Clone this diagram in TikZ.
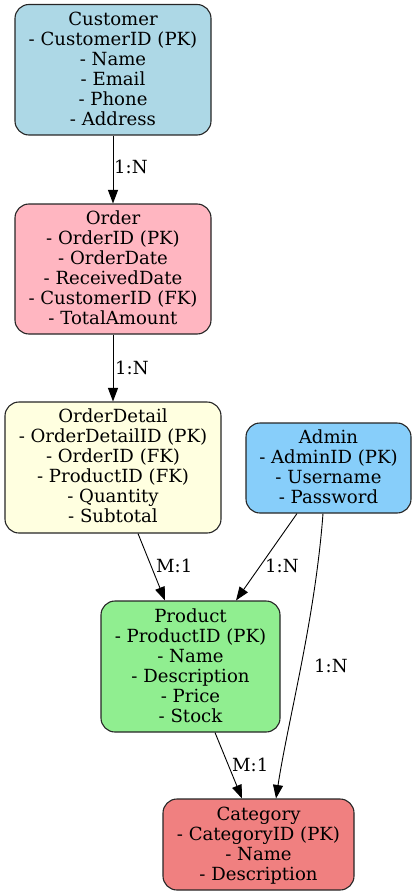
\documentclass[tikz,border=0pt]{standalone}
\usepackage{fontspec}
\setmainfont{DejaVu Serif}
\usetikzlibrary{arrows.meta,calc}
\definecolor{cCust}{HTML}{ADD8E6}
\definecolor{cOrder}{HTML}{FFB6C1}
\definecolor{cDetail}{HTML}{FFFFE0}
\definecolor{cAdmin}{HTML}{87CEFA}
\definecolor{cProd}{HTML}{90EE90}
\definecolor{cCat}{HTML}{F08080}
\tikzset{
  entbox/.style={draw=black!85, line width=1.1pt, rounded corners=14pt, inner sep=0pt, rectangle},
  enttext/.style={align=center, anchor=base, inner sep=0pt, font=\fontsize{18.1}{20}\selectfont},
  lbl/.style={anchor=base west, inner sep=0pt, font=\fontsize{18.1}{20}\selectfont},
  edge/.style={draw=black, line width=0.9pt, -{Triangle[length=13.5pt,width=10pt]}}
}
\begin{document}
\begin{tikzpicture}[x=1pt,y=-1pt]
\useasboundingbox (0,0) rectangle (415,896);
% boxes
\node[entbox, fill=cCust, minimum width=196pt, minimum height=130.5pt] (customer) at (113,69.75) {};
\node[entbox, fill=cOrder, minimum width=196pt, minimum height=130pt] (order) at (113,269) {};
\node[entbox, fill=cDetail, minimum width=216pt, minimum height=131pt] (odetail) at (113,467.5) {};
\node[entbox, fill=cAdmin, minimum width=165pt, minimum height=90pt] (admin) at (328.5,468) {};
\node[entbox, fill=cProd, minimum width=179pt, minimum height=131pt] (product) at (190.5,666.5) {};
\node[entbox, fill=cCat, minimum width=191pt, minimum height=91pt] (category) at (258.5,844.5) {};
% texts (anchored at baseline of last line)
\node[enttext] (customer-t) at (113,126) {Customer\\- CustomerID (PK)\\- Name\\- Email\\- Phone\\- Address};
\node[enttext] (order-t) at (113,324) {Order\\- OrderID (PK)\\- OrderDate\\- ReceivedDate\\- CustomerID (FK)\\- TotalAmount};
\node[enttext] (odetail-t) at (113,522) {OrderDetail\\- OrderDetailID (PK)\\- OrderID (FK)\\- ProductID (FK)\\- Quantity\\- Subtotal};
\node[enttext] (admin-t) at (328.5,503) {Admin\\- AdminID (PK)\\- Username\\- Password};
\node[enttext] (product-t) at (190.5,722) {Product\\- ProductID (PK)\\- Name\\- Description\\- Price\\- Stock};
\node[enttext] (category-t) at (258.5,880) {Category\\- CategoryID (PK)\\- Name\\- Description};
% edges
\draw[edge] (customer.south) -- (order.north);
\node[lbl] (l1) at (114,174) {1:N};
\draw[edge] (order.south) -- (odetail.north);
\node[lbl] (l2) at (115,374) {1:N};
\draw[edge] ($(odetail.south)+(25,0)$) -- ($(product.north)+(-25.5,0)$);
\node[lbl] (l3) at (156,572) {M:1};
\draw[edge] ($(admin.south)+(-31.5,0)$) -- ($(product.north)+(45.5,0)$);
\node[lbl] (l4) at (265,572) {1:N};
\draw[edge] ($(admin.south)+(-5.5,0)$) .. controls (315,620) and (288,720) .. ($(category.north)+(17.5,0)$);
\node[lbl] (l5) at (314,672) {1:N};
\draw[edge] ($(product.south)+(24.5,0)$) -- ($(category.north)+(-16.5,0)$);
\node[lbl] (l6) at (232,771) {M:1};
\end{tikzpicture}
\end{document}
